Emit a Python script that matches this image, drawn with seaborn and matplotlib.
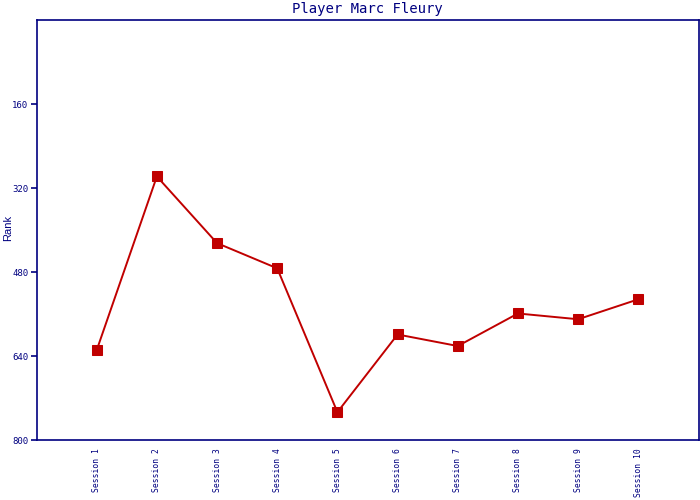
import matplotlib
matplotlib.use("Agg")
import matplotlib.pyplot as plt
import seaborn as sns
import pandas as pd

sessions = ["Session 1", "Session 2", "Session 3", "Session 4", "Session 5",
            "Session 6", "Session 7", "Session 8", "Session 9", "Session 10"]
ranks = [629, 298, 425, 473, 747, 599, 621, 559, 570, 532]
y_ticks = [160, 320, 480, 640, 800]

sns.set_style("white")
plt.rcParams['font.family'] = ['DejaVu Sans Mono', 'DejaVu Sans']

navy = "#000080"
red = "#c00000"

df = pd.DataFrame({"session": sessions, "rank": ranks})
df["pos"] = range(1, len(sessions) + 1)

fig = plt.figure(figsize=(7, 5), dpi=100)
ax = fig.add_axes([36.5 / 700, 60 / 500, 662 / 700, 420 / 500])

sns.lineplot(data=df, x="pos", y="rank", ax=ax, color=red, linewidth=1.4,
             marker="s", markersize=6.8, markeredgecolor=red, markerfacecolor=red)

ax.set_xlim(0, 11)
ax.set_ylim(800, 0)
ax.set_xticks(df["pos"])
ax.set_xticklabels(sessions, rotation=90, fontsize=5.8, color=navy, va="top")
ax.set_yticks(y_ticks)
ax.set_yticklabels([str(v) for v in y_ticks], fontsize=6.5, color=navy)
ax.tick_params(axis="x", length=0, pad=6)
ax.tick_params(axis="y", length=4, width=1.2, color=navy, pad=2, left=True)
ax.set_xlabel("")
ax.set_ylabel("Rank", fontsize=8, color=navy, family="Liberation Sans")
ax.yaxis.set_label_coords(-0.0355, 0.505)
ax.set_title("Player Marc Fleury", fontsize=10, color=navy, pad=5)
for s in ax.spines.values():
    s.set_color(navy)
    s.set_linewidth(1.2)
    s.set_visible(True)

fig.savefig("out.png", dpi=100)
